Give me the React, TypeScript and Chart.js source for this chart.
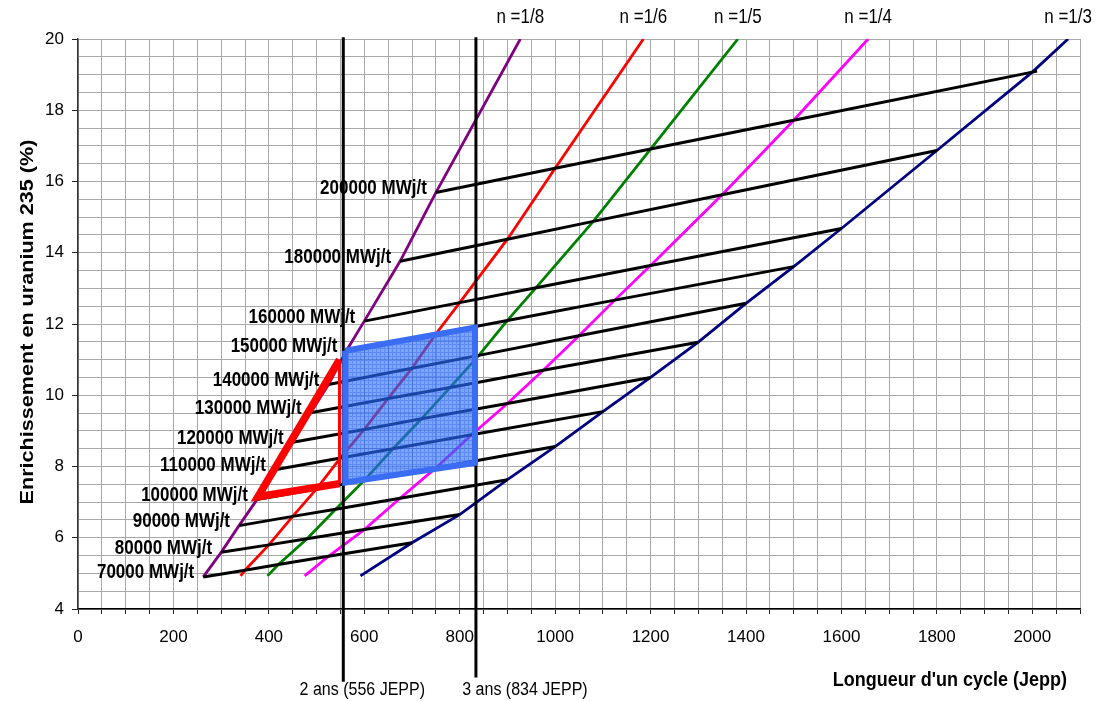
import React, { useEffect, useRef } from 'react';
import { Chart, registerables } from 'chart.js';

Chart.register(...registerables);

// ---------- data ----------
const burnups = [70000, 80000, 90000, 100000, 110000, 120000, 130000, 140000, 150000, 160000, 180000, 200000];
const nLabels = ['n =1/8', 'n =1/6', 'n =1/5', 'n =1/4', 'n =1/3'];
const nColors = ['#800080', '#FF0000', '#008000', '#FF00FF', '#000080'];

// cycle length (Jepp) where each n curve meets each burnup line
const lenN8 = [262.5, 300, 337.5, 375, 412.5, 450, 487.5, 525, 562.5, 600, 675, 750];
const lenN6 = [350, 400, 450, 500, 550, 600, 650, 700, 750, 800, 900, 1000];
const lenN5 = [420, 480, 540, 600, 660, 720, 780, 840, 900, 960, 1080, 1200];
const lenN4 = [525, 600, 675, 750, 825, 900, 975, 1050, 1125, 1200, 1350, 1500];
const lenN3 = [700, 800, 900, 1000, 1100, 1200, 1300, 1400, 1500, 1600, 1800, 2000];

// enrichment (%) at those points
const enrN8 = [4.9, 5.59, 6.34, 7.07, 7.91, 8.68, 9.51, 10.3, 11.25, 12.08, 13.76, 15.69];
const enrN6 = [5.09, 5.8, 6.6, 7.37, 8.24, 9.04, 9.91, 10.76, 11.72, 12.6, 14.38, 16.37];
const enrN5 = [5.25, 5.97, 6.8, 7.61, 8.5, 9.34, 10.22, 11.12, 12.1, 13.02, 14.88, 16.91];
const enrN4 = [5.48, 6.23, 7.11, 7.96, 8.89, 9.77, 10.7, 11.67, 12.67, 13.64, 15.63, 17.72];
const enrN3 = [5.86, 6.65, 7.63, 8.56, 9.54, 10.5, 11.49, 12.58, 13.61, 14.68, 16.87, 19.07];

// start and end of each n curve
const nStartLen = [262.5, 341, 397, 475, 592];
const nStartEnr = [4.9, 4.93, 4.93, 4.93, 4.93];
const nEndLen = [927, 1185, 1383, 1656, 2075];
const nEndEnr = [20, 20, 20, 20, 20];

// the 200000 MWj/t line runs a little past the n=1/3 curve
const tailLen = [2010];
const tailEnr = [19.1];

// cycle-length markers
const cycleMarks = [556, 834];
const cycleLabels = ['2 ans (556 JEPP)', '3 ans (834 JEPP)'];
const cycleTop = [20.05, 20.05];
const cycleBottom = [1.96, 2.08];

// blue zone (2 to 3 years, 100000 to 150000 MWj/t)
const zoneLen = [560, 832, 832, 560, 560];
const zoneEnr = [11.25, 11.9, 8.1, 7.55, 11.25];

// red triangle
const triLen = [548, 377, 548];
const triEnr = [11.0, 7.15, 7.52];

const xTitle = "Longueur d'un cycle (Jepp)";
const yTitle = 'Enrichissement en uranium 235 (%)';

// ---------------------------------------------------
const FONT = "'Liberation Sans', Arial, sans-serif";

const pts = (xs: number[], ys: number[]) => xs.map((v, i) => ({ x: v, y: ys[i] }));

export default function App() {
  const ref = useRef<HTMLCanvasElement>(null);

  useEffect(() => {
    const canvas = ref.current!;
    const lens = [lenN8, lenN6, lenN5, lenN4, lenN3];
    const enrs = [enrN8, enrN6, enrN5, enrN4, enrN3];

    const pcv = document.createElement('canvas');
    pcv.width = 4;
    pcv.height = 4;
    const pc = pcv.getContext('2d')!;
    pc.fillStyle = 'rgba(45,110,245,0.62)';
    pc.fillRect(0, 0, 4, 4);
    pc.fillStyle = 'rgba(20,80,230,0.3)';
    pc.fillRect(0, 0, 4, 1);
    pc.fillRect(0, 1, 1, 3);
    const pattern = canvas.getContext('2d')!.createPattern(pcv, 'repeat');

    const datasets: any[] = [];

    nLabels.forEach((lab, k) => {
      datasets.push({
        label: lab,
        data: [
          { x: nStartLen[k], y: nStartEnr[k] },
          ...pts(lens[k], enrs[k]),
          { x: nEndLen[k], y: nEndEnr[k] },
        ],
        borderColor: nColors[k],
        borderWidth: 2.8,
        pointRadius: 0,
        tension: 0,
        fill: false,
        order: 10,
      });
    });

    burnups.forEach((b, i) => {
      const data = lens.map((l, k) => ({ x: l[i], y: enrs[k][i] }));
      if (i === burnups.length - 1) data.push(...pts(tailLen, tailEnr));
      datasets.push({
        label: `${b} MWj/t`,
        data,
        borderColor: '#000',
        borderWidth: 3,
        pointRadius: 0,
        tension: 0,
        fill: false,
        order: 8,
      });
    });

    cycleMarks.forEach((c, i) => {
      datasets.push({
        label: cycleLabels[i],
        data: [
          { x: c, y: cycleTop[i] },
          { x: c, y: cycleBottom[i] },
        ],
        borderColor: '#000',
        borderWidth: 3,
        pointRadius: 0,
        clip: false,
        fill: false,
        order: 6,
      });
    });

    datasets.push({
      label: 'triangle',
      data: pts(triLen, triEnr),
      borderColor: '#FF0000',
      borderWidth: 7.5,
      borderJoinStyle: 'miter',
      pointRadius: 0,
      fill: false,
      order: 4,
    });
    datasets.push({
      label: 'triangle-side',
      data: [
        { x: triLen[2], y: triEnr[2] },
        { x: triLen[0], y: triEnr[0] },
      ],
      borderColor: '#FF0000',
      borderWidth: 3,
      pointRadius: 0,
      fill: false,
      order: 4,
    });
    datasets.push({
      label: 'zone',
      data: pts(zoneLen, zoneEnr),
      borderColor: '#3a6cf4',
      borderWidth: 6,
      borderJoinStyle: 'miter',
      pointRadius: 0,
      fill: false,
      order: 1,
    });

    const sText = (
      ctx: CanvasRenderingContext2D,
      text: string,
      x: number,
      y: number,
      font: string,
      align: CanvasTextAlign,
      sy = 1.15
    ) => {
      ctx.save();
      ctx.translate(x, y);
      ctx.scale(1, sy);
      ctx.font = font;
      ctx.textAlign = align;
      ctx.textBaseline = 'middle';
      ctx.fillStyle = '#000';
      ctx.fillText(text, 0, 0);
      ctx.restore();
    };

    const annotate = {
      id: 'annotate',
      beforeDatasetDraw(chart: any, args: any) {
        const ds = chart.data.datasets[args.index];
        if (ds.label !== 'zone') return;
        const { ctx, scales, chartArea } = chart;
        const xs = scales.x;
        const ys = scales.y;
        ctx.save();
        ctx.beginPath();
        ctx.rect(chartArea.left, chartArea.top, chartArea.right - chartArea.left, chartArea.bottom - chartArea.top);
        ctx.clip();
        ctx.beginPath();
        zoneLen.forEach((v, i) => {
          const px = xs.getPixelForValue(v);
          const py = ys.getPixelForValue(zoneEnr[i]);
          if (i === 0) ctx.moveTo(px, py);
          else ctx.lineTo(px, py);
        });
        ctx.closePath();
        ctx.fillStyle = pattern || 'rgba(45,110,245,0.62)';
        ctx.fill();
        ctx.restore();
      },
      afterDraw(chart: any) {
        const { ctx, scales } = chart;
        const xs = scales.x;
        const ys = scales.y;

        // n labels above the top end of each curve
        nLabels.forEach((lab, k) => {
          sText(ctx, lab, xs.getPixelForValue(nEndLen[k]), 18, `17px ${FONT}`, 'center');
        });

        // burnup labels left of the start of each line
        burnups.forEach((b, i) => {
          const px = xs.getPixelForValue(lenN8[i]) - 9;
          const py = ys.getPixelForValue(enrN8[i]) - 4;
          sText(ctx, `${b} MWj/t`, px, py, `bold 17px ${FONT}`, 'right');
        });

        // cycle labels under the axis
        const shift = [19, 49];
        cycleMarks.forEach((c, i) => {
          sText(ctx, cycleLabels[i], xs.getPixelForValue(c) + shift[i], 690, `16px ${FONT}`, 'center');
        });

        // axis titles
        sText(ctx, xTitle, 1067, 680, `bold 18px ${FONT}`, 'right');
        ctx.save();
        ctx.translate(28, 322);
        ctx.rotate(-Math.PI / 2);
        ctx.scale(1.2, 1);
        ctx.font = `bold 18px ${FONT}`;
        ctx.textAlign = 'center';
        ctx.textBaseline = 'middle';
        ctx.fillStyle = '#000';
        ctx.fillText(yTitle, 0, 0);
        ctx.restore();
      },
    };

    const chart = new Chart(canvas, {
      type: 'line',
      data: { datasets },
      plugins: [annotate],
      options: {
        animation: false,
        responsive: false,
        events: [],
        layout: { padding: { left: 0, right: 21, top: 39, bottom: 0 } },
        plugins: {
          legend: { display: false },
          tooltip: { enabled: false },
          title: { display: false },
        },
        scales: {
          x: {
            type: 'linear',
            min: 0,
            max: 2100,
            afterFit: (s: any) => {
              s.height = 92;
            },
            ticks: {
              stepSize: 50,
              autoSkip: false,
              maxRotation: 0,
              padding: 13,
              color: '#000',
              font: { family: FONT, size: 17 },
              callback: (v: any) => (Number(v) % 200 === 0 ? String(v) : ''),
            },
            grid: {
              color: '#a8a8a8',
              lineWidth: 1,
              drawTicks: true,
              tickLength: 5,
              tickColor: '#222',
            },
            border: { color: '#000', width: 1.5 },
          },
          y: {
            type: 'linear',
            min: 4,
            max: 20,
            afterFit: (s: any) => {
              s.width = 78;
            },
            ticks: {
              stepSize: 0.5,
              autoSkip: false,
              padding: 8,
              color: '#000',
              font: { family: FONT, size: 17 },
              callback: (v: any) => (Number(v) % 2 === 0 ? String(v) : ''),
            },
            grid: {
              color: '#a8a8a8',
              lineWidth: 1,
              drawTicks: true,
              tickLength: 6,
              tickColor: (c: any) => (c.tick && Number(c.tick.value) % 2 === 0 ? '#222' : 'rgba(0,0,0,0)'),
            },
            border: { color: '#333', width: 1.5 },
          },
        },
      },
    });

    return () => chart.destroy();
  }, []);

  return (
    <div style={{ position: 'absolute', left: 0, top: 0, width: 1101, height: 701, background: '#fff' }}>
      <canvas ref={ref} width={1101} height={701} style={{ display: 'block' }} />
    </div>
  );
}
